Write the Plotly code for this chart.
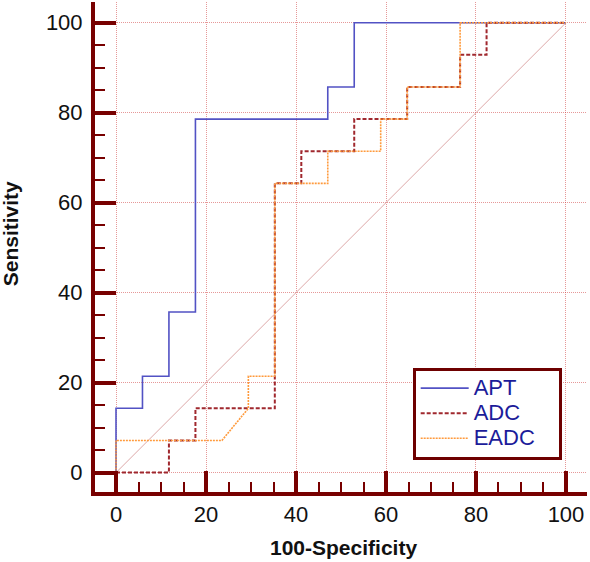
import plotly.graph_objects as go

# ROC curve vertices (100-Specificity, Sensitivity)
apt_x = [0, 0, 5.88, 5.88, 11.76, 11.76, 17.65, 17.65, 47.06, 47.06, 52.94, 52.94, 100]
apt_y = [0, 14.29, 14.29, 21.43, 21.43, 35.71, 35.71, 78.57, 78.57, 85.71, 85.71, 100, 100]

adc_x = [0, 11.76, 11.76, 17.65, 17.65, 35.29, 35.29, 41.18, 41.18, 52.94, 52.94, 64.71, 64.71, 76.47, 76.47, 82.35, 82.35, 100]
adc_y = [0, 0, 7.14, 7.14, 14.29, 14.29, 64.29, 64.29, 71.43, 71.43, 78.57, 78.57, 85.71, 85.71, 92.86, 92.86, 100, 100]

eadc_x = [0, 0, 23.53, 29.41, 29.41, 35.29, 35.29, 47.06, 47.06, 58.82, 58.82, 64.71, 64.71, 76.47, 76.47, 100]
eadc_y = [0, 7.14, 7.14, 14.29, 21.43, 21.43, 64.29, 64.29, 71.43, 71.43, 78.57, 78.57, 85.71, 85.71, 100, 100]

diag_x = [0, 100]
diag_y = [0, 100]

series_names = ["APT", "ADC", "EADC"]
tick_vals = [0, 20, 40, 60, 80, 100]
x_title = "100-Specificity"
y_title = "Sensitivity"

AXIS = "#780000"
FONT = "Liberation Sans, Arial, sans-serif"


def legend_label(name):
    return '<span style="font-size:22px">' + name + "&nbsp;&nbsp;&nbsp;</span>"


fig = go.Figure()
fig.add_trace(go.Scatter(x=diag_x, y=diag_y, mode="lines", showlegend=False,
                         line=dict(color="#DDA8A8", width=1), hoverinfo="skip"))
fig.add_trace(go.Scatter(x=apt_x, y=apt_y, mode="lines", name=legend_label(series_names[0]),
                         line=dict(color="#5252C4", width=1.6)))
fig.add_trace(go.Scatter(x=adc_x, y=adc_y, mode="lines", name=legend_label(series_names[1]),
                         line=dict(color="#A0282E", width=2, dash="4px,2px")))
fig.add_trace(go.Scatter(x=eadc_x, y=eadc_y, mode="lines", name=legend_label(series_names[2]),
                         line=dict(color="#FF9A3C", width=1.6, dash="2px,1px")))

axis_common = dict(
    tickvals=tick_vals,
    showline=True, linecolor=AXIS, linewidth=4,
    ticks="inside", ticklen=21, tickwidth=4, tickcolor=AXIS,
    showgrid=True, gridcolor="rgba(205,50,50,0.5)", gridwidth=1, griddash="1px,1px",
    zeroline=False,
    tickfont=dict(family=FONT, size=22, color="#111111"),
    minor=dict(dtick=5, tick0=0, ticks="inside", ticklen=10, tickwidth=2,
               tickcolor=AXIS, showgrid=False),
    mirror=False,
)

fig.update_xaxes(range=[-4.67, 104.67], **axis_common)
fig.update_yaxes(range=[-4.31, 104.6], ticklabelstandoff=4, **axis_common)

fig.update_layout(
    width=590, height=562,
    margin=dict(l=95, r=3, t=2, b=70),
    plot_bgcolor="white", paper_bgcolor="white",
    font=dict(family=FONT),
    legend=dict(
        x=0.6457, y=0.254, xanchor="left", yanchor="top",
        bgcolor="white", bordercolor="#6E0000", borderwidth=3,
        font=dict(family=FONT, size=17, color="#1C1C9A"),
        itemwidth=48, traceorder="normal",
    ),
    annotations=[
        dict(text="<b>" + x_title + "</b>", xref="paper", yref="paper",
             x=0.5055, y=-0.1123, xanchor="center", yanchor="middle",
             showarrow=False, font=dict(family=FONT, size=21, color="#111111")),
        dict(text="<b>" + y_title + "</b>", xref="paper", yref="paper",
             x=-0.1728, y=0.528, xanchor="center", yanchor="middle", textangle=-90,
             showarrow=False, font=dict(family=FONT, size=21, color="#111111")),
    ],
)

fig.write_html("out.html")
